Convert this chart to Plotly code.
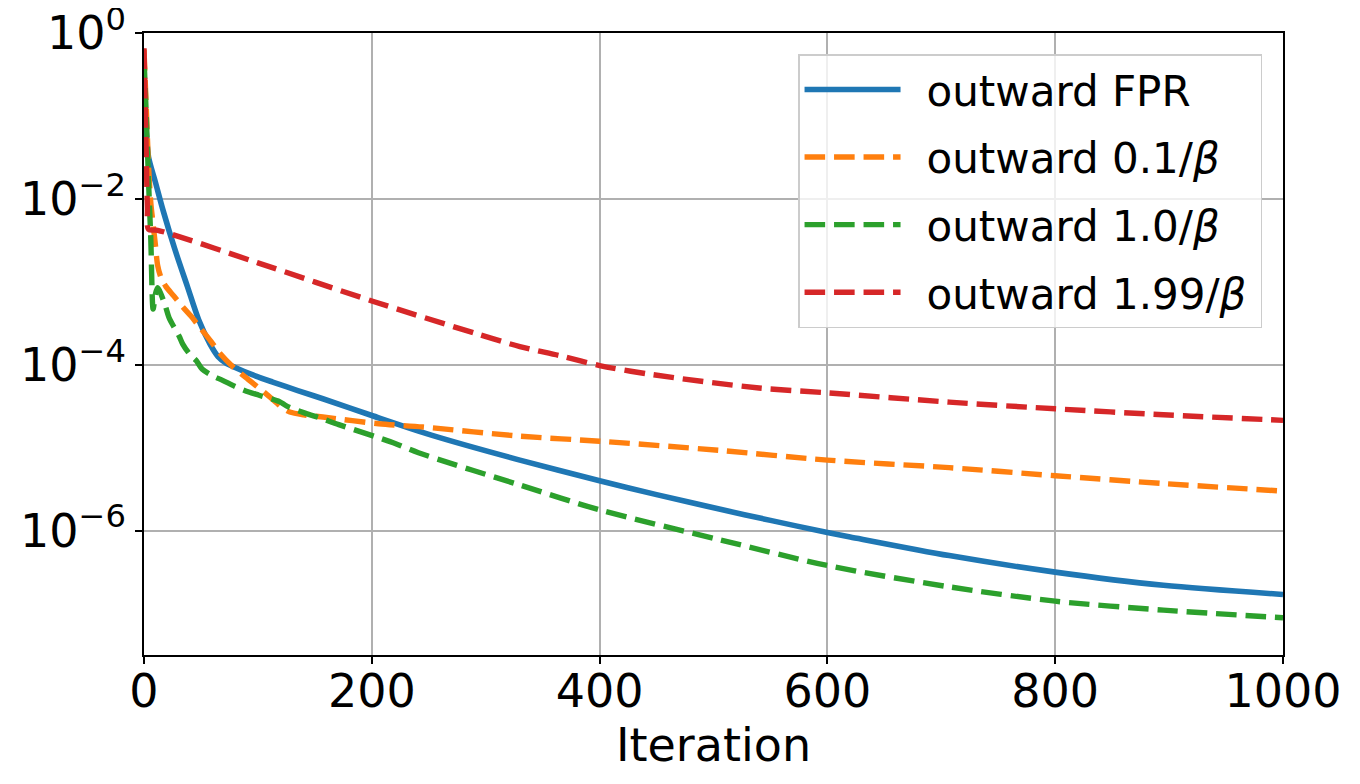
import plotly.graph_objects as go

# ---- data (iteration, residual) ----
fpr_x = [0, 2, 4, 10, 17, 27, 38, 48, 58, 65, 72, 80, 95, 113, 135, 157, 200, 253, 330,
         400, 450, 505, 550, 600, 620, 707, 800, 895, 1000]
fpr_y = [1.6e-1, 6.3e-2, 3.2e-2, 1.6e-2, 7.1e-3, 2.5e-3, 8.9e-4, 3.5e-4, 1.78e-4, 1.26e-4,
         1.05e-4, 9.3e-5, 7.6e-5, 6.2e-5, 4.9e-5, 3.9e-5, 2.45e-5, 1.41e-5, 7.1e-6,
         4.0e-6, 2.72e-6, 1.82e-6, 1.33e-6, 9.5e-7, 8.4e-7, 5.0e-7, 3.16e-7, 2.19e-7, 1.7e-7]

o01_x = [0, 2, 4, 6, 8, 10, 12, 15, 19, 26, 34, 41, 48, 59, 66, 78, 89, 107, 122, 128, 140,
         157, 206, 245, 330, 400, 505, 600, 707, 800, 895, 1000]
o01_y = [6.3e-1, 1.26e-1, 2.5e-2, 8.9e-3, 5.0e-3, 2.8e-3, 1.58e-3, 1.12e-3, 8.9e-4, 6.8e-4,
         5.0e-4, 3.9e-4, 2.95e-4, 1.9e-4, 1.41e-4, 9.5e-5, 7.1e-5, 4.5e-5, 3.0e-5, 2.7e-5,
         2.5e-5, 2.35e-5, 1.95e-5, 1.78e-5, 1.38e-5, 1.2e-5, 9.3e-6, 7.1e-6,
         5.75e-6, 4.6e-6, 3.7e-6, 3.0e-6]

o10_x = [0, 2, 4, 6, 8, 10, 12, 15, 19, 22, 27, 31, 34, 40, 46, 51, 60, 69, 81, 92, 101,
         119, 125, 142, 154, 171, 206, 221, 241, 330, 400, 505, 600, 707, 800, 895, 1000]
o10_y = [5.0e-1, 1.0e-1, 1.6e-2, 3.2e-3, 4.7e-4, 7.1e-4, 8.5e-4, 7.1e-4, 5.0e-4, 3.7e-4,
         2.75e-4, 2.2e-4, 1.78e-4, 1.35e-4, 1.12e-4, 8.9e-5, 7.4e-5, 6.5e-5, 5.4e-5,
         4.7e-5, 4.3e-5, 3.6e-5, 3.2e-5, 2.6e-5, 2.3e-5, 1.9e-5, 1.32e-5, 1.12e-5, 8.7e-6,
         3.55e-6, 1.78e-6, 7.8e-7, 3.8e-7, 2.1e-7, 1.41e-7, 1.1e-7, 8.9e-8]

o199_x = [0, 1, 2, 3, 4, 12, 100, 200, 293, 330, 365, 400, 447, 540, 600, 707, 800,
          895, 1000]
o199_y = [6.6e-1, 1.6e-1, 3.2e-2, 7.9e-3, 4.3e-3, 4.2e-3, 1.7e-3, 5.9e-4, 2.35e-4, 1.66e-4,
          1.29e-4, 9.8e-5, 7.6e-5, 5.25e-5, 4.6e-5, 3.55e-5, 2.95e-5, 2.5e-5, 2.14e-5]

LEAD = "\u2002"
TRAIL = "\u2009"
names = [LEAD + "outward FPR" + TRAIL, LEAD + "outward 0.1/<i>β</i>" + TRAIL,
         LEAD + "outward 1.0/<i>β</i>" + TRAIL, LEAD + "outward 1.99/<i>β</i>" + TRAIL]
colors = ["#1f77b4", "#ff7f0e", "#2ca02c", "#d62728"]
xs = [fpr_x, o01_x, o10_x, o199_x]
ys = [fpr_y, o01_y, o10_y, o199_y]
dashes = ["solid", "20.6px,8.9px", "20.6px,8.9px", "20.6px,8.9px"]
widths = [5.6, 5.4, 5.4, 5.4]

x_ticks = [0, 200, 400, 600, 800, 1000]
y_ticks = [1, 1e-2, 1e-4, 1e-6]
y_ticktext = ["10<sup>0</sup>", "10<sup>−2</sup>", "10<sup>−4</sup>", "10<sup>−6</sup>"]

fig = go.Figure()
for i in range(4):
    fig.add_trace(go.Scatter(
        x=xs[i], y=ys[i], mode="lines", name=names[i], legendgroup=str(i),
        line=dict(color=colors[i], width=widths[i], dash=dashes[i],
                  shape="spline", smoothing=0.8),
    ))

font_family = "DejaVu Sans"
fig.update_layout(
    width=1352, height=776,
    margin=dict(l=136, r=77, t=25, b=129, autoexpand=False),
    paper_bgcolor="white", plot_bgcolor="white",
    font=dict(family=font_family, size=46, color="black"),
    showlegend=True,
    legend=dict(
        x=0.9816, y=0.966, xanchor="right", yanchor="top",
        bgcolor="rgba(255,255,255,0.8)", bordercolor="#cccccc", borderwidth=1.5,
        font=dict(family=font_family, size=42, color="black"),
        traceorder="grouped", tracegroupgap=10, itemwidth=96,
    ),
    xaxis=dict(
        range=[0, 1000], tickvals=x_ticks, ticks="outside", ticklen=7, tickwidth=1.5,
        tickcolor="black", showline=True, linecolor="black", linewidth=1.5, mirror=True,
        showgrid=True, gridcolor="#b0b0b0", gridwidth=1.5, zeroline=False,
        ticklabelstandoff=-12, ticklabeloverflow="allow", automargin=False,
        title=dict(text="Iteration", standoff=8, font=dict(size=46)),
    ),
    yaxis=dict(
        type="log", range=[-7.5, 0.003], tickvals=y_ticks, ticktext=y_ticktext,
        ticks="outside", ticklen=7, tickwidth=1.5, tickcolor="black",
        showline=True, linecolor="black", linewidth=1.5, mirror=True,
        showgrid=True, gridcolor="#b0b0b0", gridwidth=1.5, zeroline=False,
        ticklabeloverflow="allow", automargin=False,
    ),
)

fig.write_html("out.html")
